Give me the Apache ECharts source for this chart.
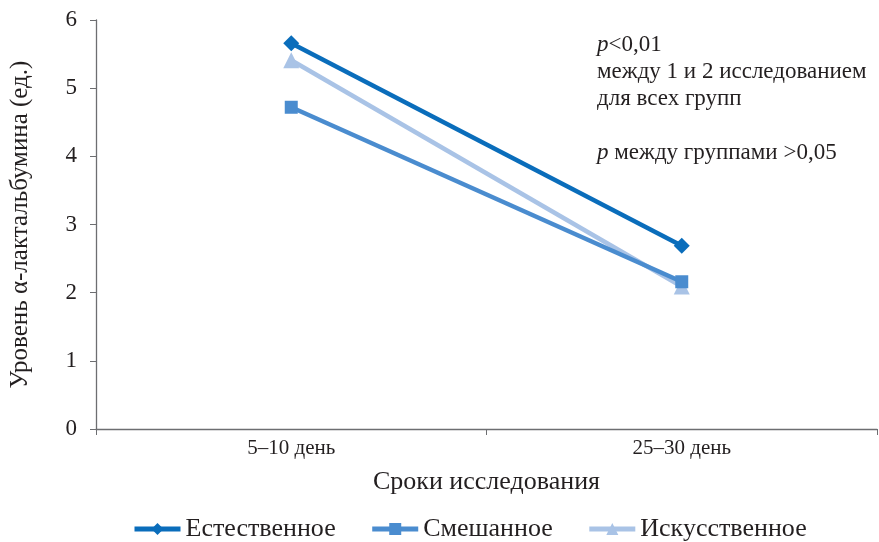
<!DOCTYPE html>
<html><head><meta charset="utf-8">
<script src="https://cdn.jsdelivr.net/npm/echarts@6/dist/echarts.min.js"></script>
<style>html,body{margin:0;padding:0;background:#fff}#c{width:879px;height:542px}</style>
</head><body><div id="c"></div>
<script>
const categories = ['5–10 день', '25–30 день'];
const seriesNames = ['Естественное', 'Смешанное', 'Искусственное'];
const natural = [5.66, 2.69];
const mixed = [4.72, 2.16];
const artificial = [5.41, 2.09];
const yTicks = [0, 1, 2, 3, 4, 5, 6];
const yTitle = 'Уровень α-лактальбумина (ед.)';
const xTitle = 'Сроки исследования';

const FONT = '"Liberation Serif", "DejaVu Serif", serif';
const colors = ['#0a6dbb', '#4a8ccf', '#a9c3e6'];
const symbols = ['diamond', 'rect', 'triangle'];
const symSizes = [16, 13, 16];
const data = [natural, mixed, artificial];

const chart = echarts.init(document.getElementById('c'), null, {renderer: 'canvas'});
chart.setOption({
  animation: false,
  backgroundColor: '#fff',
  textStyle: {fontFamily: FONT, color: '#231f20'},
  grid: {left: 96, top: 20, right: 2, bottom: 113, containLabel: false, outerBoundsMode: 'none'},
  legend: {
    top: 511, left: 127,
    data: seriesNames,
    itemWidth: 46, itemHeight: 15, itemGap: 34,
    lineStyle: {width: 5},
    textStyle: {fontFamily: FONT, fontSize: 26, color: '#231f20'}
  },
  xAxis: {
    type: 'category', data: categories, boundaryGap: true,
    name: xTitle, nameLocation: 'middle', nameGap: 40,
    nameTextStyle: {fontFamily: FONT, fontSize: 26, color: '#231f20'},
    axisLine: {lineStyle: {color: '#6d6e71', width: 1.3}},
    axisTick: {show: true, length: 6, alignWithLabel: false, lineStyle: {color: '#6d6e71'}},
    axisLabel: {fontFamily: FONT, fontSize: 21, color: '#231f20', margin: 9},
    splitLine: {show: false}
  },
  yAxis: {
    type: 'value', min: yTicks[0], max: yTicks[yTicks.length - 1], interval: 1,
    name: yTitle, nameLocation: 'middle', nameGap: 63, nameRotate: 90,
    nameTextStyle: {fontFamily: FONT, fontSize: 25, color: '#231f20'},
    axisLine: {show: true, lineStyle: {color: '#6d6e71', width: 1.3}},
    axisTick: {show: true, length: 6, lineStyle: {color: '#6d6e71'}},
    axisLabel: {fontFamily: FONT, fontSize: 23, color: '#231f20', margin: 19},
    splitLine: {show: false}
  },
  graphic: [{
    type: 'text', left: 597, top: 33,
    style: {
      rich: {
        i: {fontFamily: FONT, fontStyle: 'italic', fontSize: 23, fill: '#231f20', lineHeight: 27},
        n: {fontFamily: FONT, fontSize: 23, fill: '#231f20', lineHeight: 27}
      },
      text: '{i|p}{n|<0,01}\n{n|между 1 и 2 исследованием}\n{n|для всех групп}\n{n| }\n{i|p}{n| между группами >0,05}'
    }
  }],
  series: seriesNames.map((n, i) => ({
    name: n, type: 'line', data: data[i],
    symbol: symbols[i], symbolSize: symSizes[i],
    lineStyle: {color: colors[i], width: 4.5},
    itemStyle: {color: colors[i]},
    z: 3 - i
  }))
});
</script></body></html>
